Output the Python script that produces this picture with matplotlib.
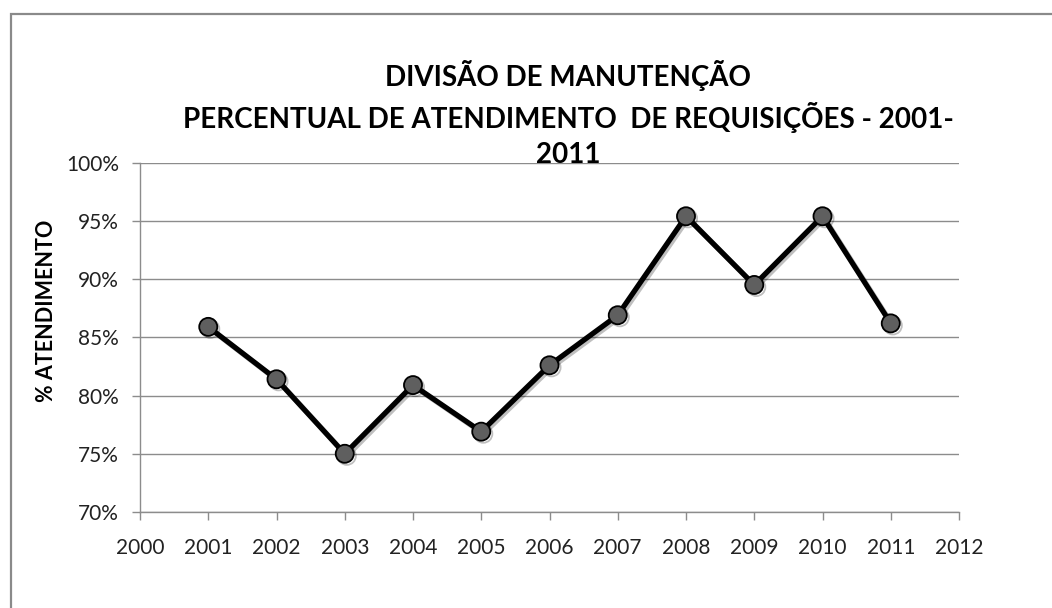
import matplotlib.pyplot as plt
import matplotlib.patheffects as pe
from matplotlib.patches import Rectangle
from matplotlib.ticker import FuncFormatter

plt.rcParams['font.family'] = ['Lato', 'DejaVu Sans']

anos = [2001, 2002, 2003, 2004, 2005, 2006, 2007, 2008, 2009, 2010, 2011]
atendimento = [85.9, 81.4, 75.0, 80.9, 76.9, 82.6, 86.9, 95.4, 89.5, 95.4, 86.2]
titulo = 'DIVISÃO DE MANUTENÇÃO\nPERCENTUAL DE ATENDIMENTO  DE REQUISIÇÕES - 2001-\n2011'

fig = plt.figure(figsize=(10.52, 6.08), dpi=100)
ax = fig.add_axes([140/1052, 1 - 512/608, (959 - 140)/1052, (512 - 162.7)/608])

# moldura do gráfico (cortada à direita e embaixo, como na imagem)
fig.patches.append(Rectangle((11/1052, -0.2), 2, (608 - 14)/608 + 0.2,
                             transform=fig.transFigure, fill=False,
                             edgecolor='#8a8a8a', linewidth=1.6))

ax.plot(anos, atendimento, color='black', linewidth=3.8, marker='o',
        markersize=13, markerfacecolor='#5f5f5f', markeredgecolor='black',
        markeredgewidth=1.3, zorder=3,
        path_effects=[pe.SimpleLineShadow(offset=(1.5, -1.5), alpha=0.25), pe.Normal()])

ax.set_xlim(2000, 2012)
ax.set_ylim(70, 100)
ax.set_xticks(range(2000, 2013))
ax.set_yticks(range(70, 101, 5))
ax.yaxis.set_major_formatter(FuncFormatter(lambda v, p: f'{v:.0f}%'))

ax.grid(axis='y', color='#8c8c8c', linewidth=1)
ax.set_axisbelow(True)
for s in ['top', 'right']:
    ax.spines[s].set_visible(False)
for s in ['left', 'bottom']:
    ax.spines[s].set_color('#8c8c8c')
    ax.spines[s].set_linewidth(1)

ax.tick_params(axis='both', colors='#8c8c8c', labelcolor='#222222',
               labelsize=15, length=6, width=1, direction='out')
ax.tick_params(axis='x', pad=13)
ax.tick_params(axis='y', pad=9)

ax.set_ylabel('% ATENDIMENTO', fontsize=15.5, fontweight='bold')
ax.yaxis.set_label_coords(57/1052, 1 - 311/608, transform=fig.transFigure)

fig.text(568/1052, 1 - 114/608, titulo, ha='center', va='center',
         fontsize=20, fontweight='bold', linespacing=1.43)

plt.savefig('out.png', dpi=100)
